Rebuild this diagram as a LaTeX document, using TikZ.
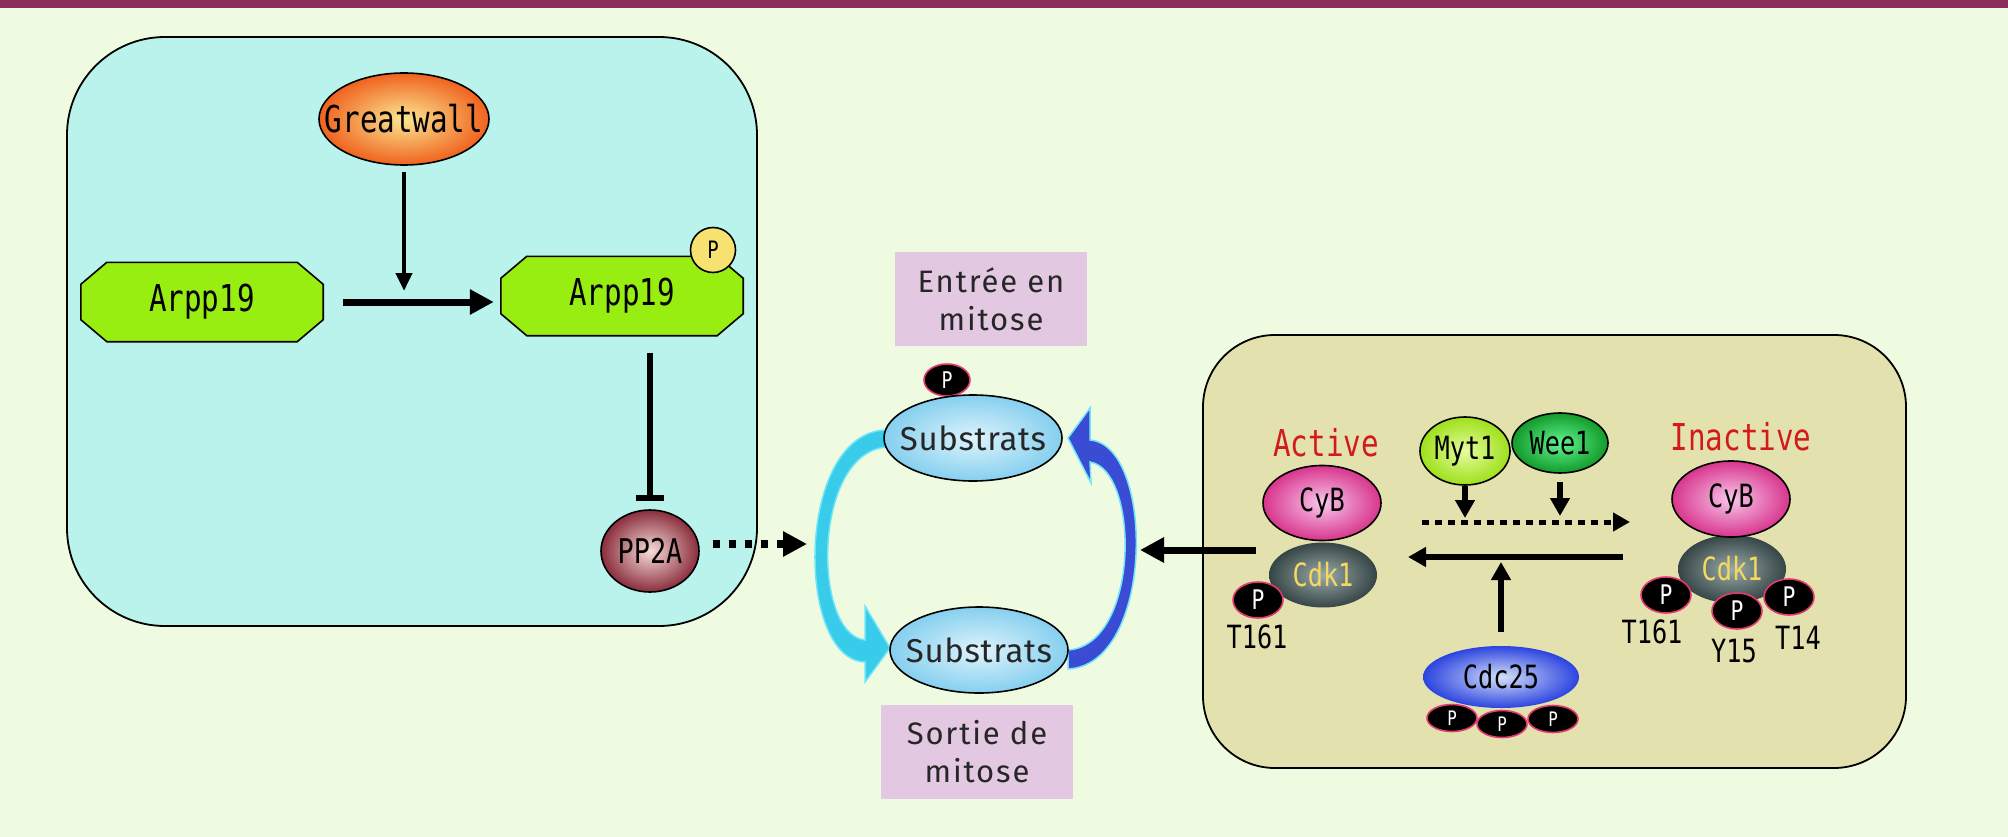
\documentclass[tikz,border=0pt]{standalone}
\usepackage{fontspec}
\usepackage{tikz}
\usetikzlibrary{shapes.geometric,arrows.meta}
\newfontfamily\protfont[FakeStretch=0.79]{DejaVu Sans Mono}
\newfontfamily\labfont[LetterSpace=6]{Fira Sans}
\newfontfamily\subfont[LetterSpace=2]{Fira Sans}
\newcommand\pfont[1]{\protfont\fontsize{#1}{#1}\selectfont}
\newcommand\lfont[1]{\labfont\fontsize{#1}{38}\selectfont}
\pgfdeclarelayer{back}
\pgfdeclarelayer{mid}
\pgfsetlayers{back,mid,main}

\definecolor{bgcol}{HTML}{EFFBE1}
\definecolor{barcol}{HTML}{8B2D5A}
\definecolor{boxcyan}{HTML}{B9F3EC}
\definecolor{boxkhaki}{HTML}{E3E1AE}
\definecolor{gwin}{HTML}{FBE792}
\definecolor{gwout}{HTML}{F0621E}
\definecolor{arpgreen}{HTML}{99EE11}
\definecolor{pyel}{HTML}{F7E170}
\definecolor{ppin}{HTML}{F6DCD8}
\definecolor{ppout}{HTML}{8A2D3C}
\definecolor{subin}{HTML}{DDF4FC}
\definecolor{subout}{HTML}{86CFEF}
\definecolor{labbox}{HTML}{E3C8E1}
\definecolor{pcrim}{HTML}{E23A6E}
\definecolor{cybin}{HTML}{F8C8EC}
\definecolor{cybout}{HTML}{D8358C}
\definecolor{cdkin}{HTML}{9AAAA9}
\definecolor{cdkout}{HTML}{364646}
\definecolor{cdktext}{HTML}{F4D860}
\definecolor{mytin}{HTML}{E6FBA0}
\definecolor{mytout}{HTML}{9EE01A}
\definecolor{weein}{HTML}{60F590}
\definecolor{weeout}{HTML}{139A2A}
\definecolor{cdcin}{HTML}{D4E0F8}
\definecolor{cdcout}{HTML}{2C44E0}
\definecolor{actred}{HTML}{D21A1A}
\definecolor{cyanar}{HTML}{38CBEA}
\definecolor{cyanlt}{HTML}{6FE6F8}
\definecolor{bluear}{HTML}{3A4CD4}

\begin{document}
\begin{tikzpicture}[x=1pt,y=-1pt,
    prot/.style={ellipse, draw, line width=1.6pt, inner sep=0pt, font=\pfont{32},
        execute at begin node={\hbox to 0pt\bgroup\hss}, execute at end node={\hss\egroup}},
    octo/.style={rectangle, minimum width=242pt, minimum height=79pt, inner sep=0pt, font=\pfont{37}},
    octoline/.style={draw, line width=1.6pt, fill=arpgreen},
    phos/.style={ellipse, draw=pcrim, fill=black, line width=1.6pt, text=white, inner sep=0pt,
        minimum width=50pt, minimum height=36pt, font=\pfont{27}},
    phsm/.style={phos, minimum width=50pt, minimum height=27pt, font=\pfont{20}},
    sub/.style={prot, inner color=subin, outer color=subout, minimum width=178pt,
        minimum height=86pt, font=\subfont\fontsize{33}{33}\selectfont, text=black!85},
    lab/.style={fill=labbox, minimum width=192pt, minimum height=94pt, align=center,
        inner sep=0pt, font=\lfont{31}, text=black!85},
    site/.style={font=\pfont{32}},
    arrL/.style={line width=7pt, -{Triangle[length=24pt,width=24pt]}},
    arrM/.style={line width=6pt, -{Triangle[length=18pt,width=19pt]}},
    arrS/.style={line width=4.5pt, -{Triangle[length=18pt,width=16pt]}},
    dotarr/.style={line width=8pt, dash pattern=on 7pt off 9pt, -{Triangle[length=24pt,width=24pt]}},
    dotsm/.style={line width=5pt, dash pattern=on 7pt off 6pt, -{Triangle[length=17pt,width=18pt]}}]

\useasboundingbox (0,0) rectangle (2008,837);
\begin{pgfonlayer}{back}
\fill[bgcol] (0,0) rectangle (2008,837);
\fill[barcol] (0,0) rectangle (2008,8);
\draw[line width=1.8pt, fill=boxcyan, rounded corners=98pt] (67,37) rectangle (757,626);
\draw[line width=1.8pt, fill=boxkhaki, rounded corners=72pt] (1203,335) rectangle (1906,768);
\end{pgfonlayer}

% Greatwall / Arpp19 / PP2A
\node[prot, inner color=gwin, outer color=gwout, minimum width=170pt, minimum height=92pt,
    font=\pfont{37}] (gw) at (404,119) {Greatwall};
\node[octo] (arpA) at (202,302) {Arpp19};
\node[octo] (arpB) at (622,296) {Arpp19};
\begin{pgfonlayer}{mid}
\foreach \n in {arpA,arpB}
    \draw[octoline] ([xshift=26pt]\n.north west) -- ([xshift=-26pt]\n.north east)
        -- ([yshift=-22pt]\n.north east) -- ([yshift=22pt]\n.south east)
        -- ([xshift=-26pt]\n.south east) -- ([xshift=26pt]\n.south west)
        -- ([yshift=22pt]\n.south west) -- ([yshift=-22pt]\n.north west) -- cycle;
\end{pgfonlayer}
\node[circle, draw, line width=1.6pt, fill=pyel, minimum size=45pt, inner sep=0pt,
    font=\pfont{24}] (pY) at (713,250) {P};
\node[prot, inner color=ppin, outer color=ppout, minimum width=98pt, minimum height=82pt,
    font=\pfont{34}] (pp) at (650,551) {PP2A};
\coordinate (hit) at (404,301);
\coordinate (cycL) at (807,544);
\draw[arrS, shorten <=6pt, shorten >=10pt] (gw.south) -- (hit);
\draw[arrL, shorten <=20pt, shorten >=7pt] (arpA.east) -- (arpA.east -| arpB.west);
\draw[line width=6pt, -{Bar[width=28pt,line width=6pt]}, shorten <=17pt, shorten >=8pt]
    (arpB.south -| pp.north) -- (pp.north);
\draw[dotarr, shorten <=13pt] (pp.east |- cycL) -- (cycL);

% substrats cycle
\fill[cyanar, draw=cyanlt, line width=1.5pt] (887,430) .. controls (795,431) and (795,660) .. (865,662)
    -- (865,682) -- (890,648) -- (865,606) -- (865,640)
    .. controls (812,635) and (812,452) .. (887,447) -- cycle;
\fill[bluear, draw=cyanlt, line width=1.5pt] (1068,669) .. controls (1155,665) and (1155,445) .. (1090,440)
    -- (1090,408) -- (1068,438) -- (1091,483) -- (1090,462)
    .. controls (1140,470) and (1140,645) .. (1068,650) -- cycle;
\node[phos, minimum width=46pt, minimum height=32pt, font=\pfont{23}] (pS) at (947,380) {P};
\node[sub] (subA) at (973,438) {Substrats};
\node[sub] (subB) at (979,650) {Substrats};
\node[lab] (entree) at (991,299) {Entrée en\\mitose};
\node[lab] (sortie) at (977,752) {Sortie de\\mitose};

% Cdk1 regulation
\node[site, text=actred, font=\pfont{37}] (act) at (1326,443) {Active};
\node[prot, inner color=cdkin, outer color=cdkout, draw=none, minimum width=108pt,
    minimum height=65pt, text=cdktext] (cdkA) at (1323,575) {Cdk1};
\node[prot, inner color=cybin, outer color=cybout, minimum width=118pt, minimum height=75pt]
    (cybA) at (1322,503) {CyB};
\node[phos] (pA) at (1258,600) {P};
\node[site] (tA) at (1257,637) {T161};

\node[prot, inner color=mytin, outer color=mytout, minimum width=90pt, minimum height=68pt]
    (myt) at (1465,451) {Myt1};
\node[prot, inner color=weein, outer color=weeout, minimum width=96pt, minimum height=60pt]
    (wee) at (1560,443) {Wee1};
\node[prot, inner color=cdcin, outer color=cdcout, draw=none, minimum width=156pt,
    minimum height=62pt] (cdc) at (1501,677) {Cdc25};
\node[phsm] (pc1) at (1452,718) {P};
\node[phsm] (pc3) at (1553,719) {P};
\node[phsm] (pc2) at (1502,724) {P};

\node[site, text=actred, font=\pfont{37}] (inact) at (1741,437) {Inactive};
\node[prot, inner color=cdkin, outer color=cdkout, draw=none, minimum width=108pt,
    minimum height=68pt, text=cdktext] (cdkI) at (1732,569) {Cdk1};
\node[prot, inner color=cybin, outer color=cybout, minimum width=118pt, minimum height=76pt]
    (cybI) at (1731,499) {CyB};
\node[phos] (pI1) at (1666,595) {P};
\node[phos] (pI3) at (1789,597) {P};
\node[phos] (pI2) at (1737,611) {P};
\node[site] (tI1) at (1652,632) {T161};
\node[site] (tI2) at (1734,651) {Y15};
\node[site] (tI3) at (1798,638) {T14};

\coordinate (cycR) at (1140,550);
\coordinate (dA) at (1422,522);
\coordinate (dB) at (1630,522);
\coordinate (sA) at (1623,557);
\coordinate (sB) at (1408,557);
\draw[arrL, shorten <=12pt] (cdkA.west |- cycR) -- (cycR);
\draw[dotsm] (dA) -- (dB);
\draw[arrM] (sA) -- (sB);
\draw[arrM, shorten >=4pt] (myt.south) -- (myt.south |- dA);
\draw[arrM, shorten <=8pt, shorten >=6pt] (wee.south) -- (wee.south |- dA);
\draw[arrM, shorten <=13pt, shorten >=5pt] (cdc.north) -- (cdc.north |- sA);
\end{tikzpicture}
\end{document}
